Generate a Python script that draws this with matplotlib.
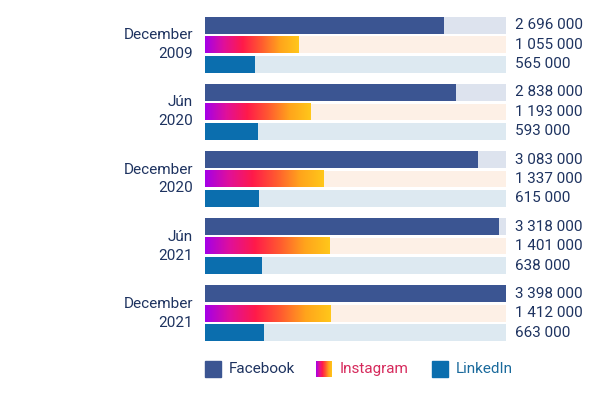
import numpy as np
import matplotlib
matplotlib.use("Agg")
from matplotlib import pyplot as plt
from matplotlib.colors import LinearSegmentedColormap
from matplotlib.patches import Rectangle

plt.rcParams['font.family'] = ['Roboto', 'DejaVu Sans']

#------------------------------------------------------------
# data
periods = ['December\n2009', 'Jún\n2020', 'December\n2020', 'Jún\n2021', 'December\n2021']
facebook = [2696000, 2838000, 3083000, 3318000, 3398000]
instagram = [1055000, 1193000, 1337000, 1401000, 1412000]
linkedin = [565000, 593000, 615000, 638000, 663000]
series_names = ['Facebook', 'Instagram', 'LinkedIn']

#------------------------------------------------------------
# styles
fb_color = '#3b5592'
li_color = '#0b6eae'
tracks = ['#dde3ee', '#fdf0e6', '#dde9f1']
text_color = '#1e3360'
ig_cmap = LinearSegmentedColormap.from_list(
    'ig', ['#a400e8', '#e0109a', '#ff1a4a', '#ff5a30', '#ffa41c', '#ffc71a'])
grad = np.linspace(0, 1, 256).reshape(1, -1)
fs = 11

vmax = max(facebook)
step = 1.0          # distance between bars in a group
bar_h = 0.86
group_pitch = 3.45

fig = plt.figure(figsize=(6, 3.98), dpi=100)
# axes: x from 205px to 506px, y from 17px to 341px
ax = fig.add_axes([205 / 600, 1 - 341 / 398, 301 / 600, 324 / 398])
top = -bar_h / 2
bottom = 4 * group_pitch + 2 * step + bar_h / 2
ax.axis('off')

for i, period in enumerate(periods):
    vals = [facebook[i], instagram[i], linkedin[i]]
    for j, v in enumerate(vals):
        y = i * group_pitch + j * step
        ax.barh(y, vmax, height=bar_h, color=tracks[j], lw=0)
        if j == 0:
            ax.barh(y, v, height=bar_h, color=fb_color, lw=0)
        elif j == 1:
            ax.imshow(grad, cmap=ig_cmap, aspect='auto',
                      extent=(0, v, y + bar_h / 2, y - bar_h / 2), zorder=3)
        else:
            ax.barh(y, v, height=bar_h, color=li_color, lw=0)
        ax.text(vmax * 1.03, y, f'{v:,}'.replace(',', ' '), va='center', ha='left',
                fontsize=fs, color=text_color)
    ax.text(-vmax * 0.04, i * group_pitch + step, period, ha='right', va='center',
            fontsize=fs, color=text_color, linespacing=1.45)
ax.set_xlim(0, vmax)
ax.set_ylim(bottom, top)

#------------------------------------------------------------
# legend
ly = 1 - 369 / 398
sw, sh = 16 / 600, 16 / 398
leg_x = [205, 316, 432]
leg_colors = [text_color, '#d62a5c', '#1a6a9c']
for k, name in enumerate(series_names):
    x0 = leg_x[k] / 600
    if k == 1:
        lax = fig.add_axes([x0, ly - sh / 2, sw, sh])
        lax.imshow(grad, cmap=ig_cmap, aspect='auto')
        lax.axis('off')
    else:
        fig.patches.append(Rectangle((x0, ly - sh / 2), sw, sh,
                                     color=fb_color if k == 0 else li_color,
                                     transform=fig.transFigure))
    fig.text(x0 + 24 / 600, ly, name, ha='left', va='center', fontsize=fs,
             color=leg_colors[k])

fig.savefig('out.png', dpi=100)
